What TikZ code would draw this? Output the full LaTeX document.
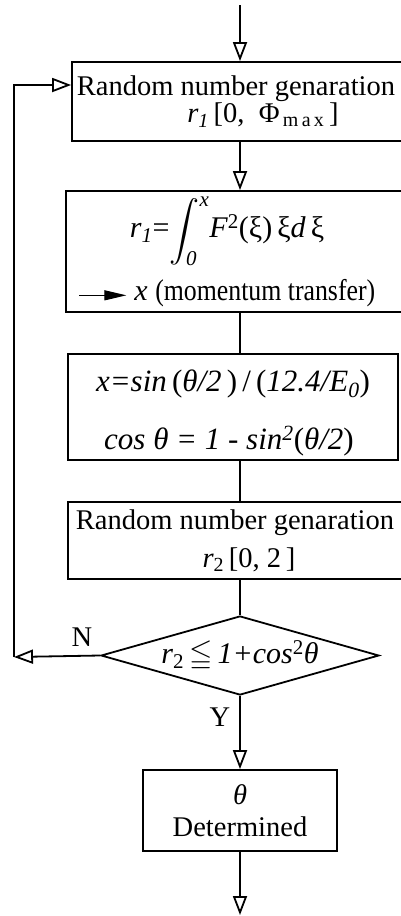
\documentclass[tikz,border=0pt]{standalone}
\usepackage{amsmath,amssymb}
\usepackage{graphicx}
\usepackage{fontspec}
\setmainfont{Liberation Serif}
\usetikzlibrary{arrows.meta,shapes.geometric}

\tikzset{
  box/.style={draw, rectangle, line width=1.8pt, align=center, inner sep=0pt},
  test/.style={draw, diamond, line width=1.8pt, aspect=3.5, inner sep=0pt},
  flow/.style={line width=1.8pt, -{Triangle[open, length=19pt, width=14pt]}},
  plain/.style={line width=1.8pt},
}

\begin{document}
\begin{tikzpicture}[x=1pt, y=-1pt, font=\fontsize{28.5}{24}\selectfont]
	\useasboundingbox (0,0) rectangle (401,916);
	
	% Boxes
	\node[box, minimum width=338pt, minimum height=79pt] (gen1) at (241,101.5)
		{Random number genaration\hspace*{10pt}\\ \hspace*{44pt}\textit{r}\textsubscript{\textit{1}}\,[0,\ \ Φ\textsubscript{\,m\,a\,x}\,]};
	\node[box, minimum width=344pt, minimum height=121pt, font=\fontsize{30}{24}\selectfont] (integ) at (238,251.5)
		{\textit{r}\textsubscript{\textit{1}}=$\displaystyle\int_{\textit{0}}^{\textit{x}}$\textit{F}\textsuperscript{2}(ξ)\,ξ\textit{d}\,ξ\hspace*{22pt}\\[12pt]
		 \tikz[baseline=-0.35ex]\draw[line width=1.2pt, -{Triangle[length=22pt, width=10pt]}] (0pt,0pt) -- (47pt,0pt);\ \textit{x} \scalebox{0.86}[1]{(momentum transfer)}\hspace*{22pt}};
	\node[box, minimum width=330pt, minimum height=106pt, font=\fontsize{31}{25}\selectfont] (conv) at (233,407)
		{\rule{0pt}{34pt}\textit{x=sin}\,(\textit{θ/2}\,)\,/\,(\textit{12.4/E}\textsubscript{\textit{0}})\\[27pt]
		 \textit{cos θ = 1 - sin}\textsuperscript{\textit{2}}(\textit{θ/2})\hspace*{8pt}};
	\node[box, minimum width=342pt, minimum height=77pt] (gen2) at (239,540.5)
		{Random number genaration\hspace*{8pt}\\[11pt] \hspace*{20pt}\textit{r}\textsubscript{2}\,[0,\ 2\,]};
	\node[test, minimum width=278pt, minimum height=79pt, font=\fontsize{30}{24}\selectfont] (check) at (240,655.5)
		{\textit{r}\textsubscript{2}\,$\leqq$\,\textit{1+cos}\textsuperscript{2}\textit{θ}};
	\node[box, minimum width=194pt, minimum height=81pt] (result) at (240,810.5)
		{\textit{θ}\\[8pt]Determined};
	
	% Labels
	\node (nlab) at (82,637) {N};
	\node (ylab) at (220,717) {Y};
	
	% Ends of the free lines
	\coordinate (start) at (240,5);
	\coordinate (finish) at (240,915);
	\coordinate (loopbot) at (14,657);
	\coordinate (looptop) at (14,85);
	
	% Lines
	\draw[flow] (start) -- (start |- gen1.north);
	\draw[flow] (gen1.south -| start) -- (integ.north -| start);
	\draw[plain] (integ.south -| start) -- (conv.north -| start);
	\draw[plain] (conv.south -| start) -- (gen2.north -| start);
	\draw[plain] (gen2.south -| start) -- (check.north);
	\draw[flow] (check.south) -- (result.north);
	\draw[flow] (result.south) -- (finish);
	
	% Loop back
	\draw[flow] (check.west) -- (loopbot);
	\draw[flow] (loopbot) -- (looptop) -- (looptop -| gen1.west);
	
\end{tikzpicture}
\end{document}
